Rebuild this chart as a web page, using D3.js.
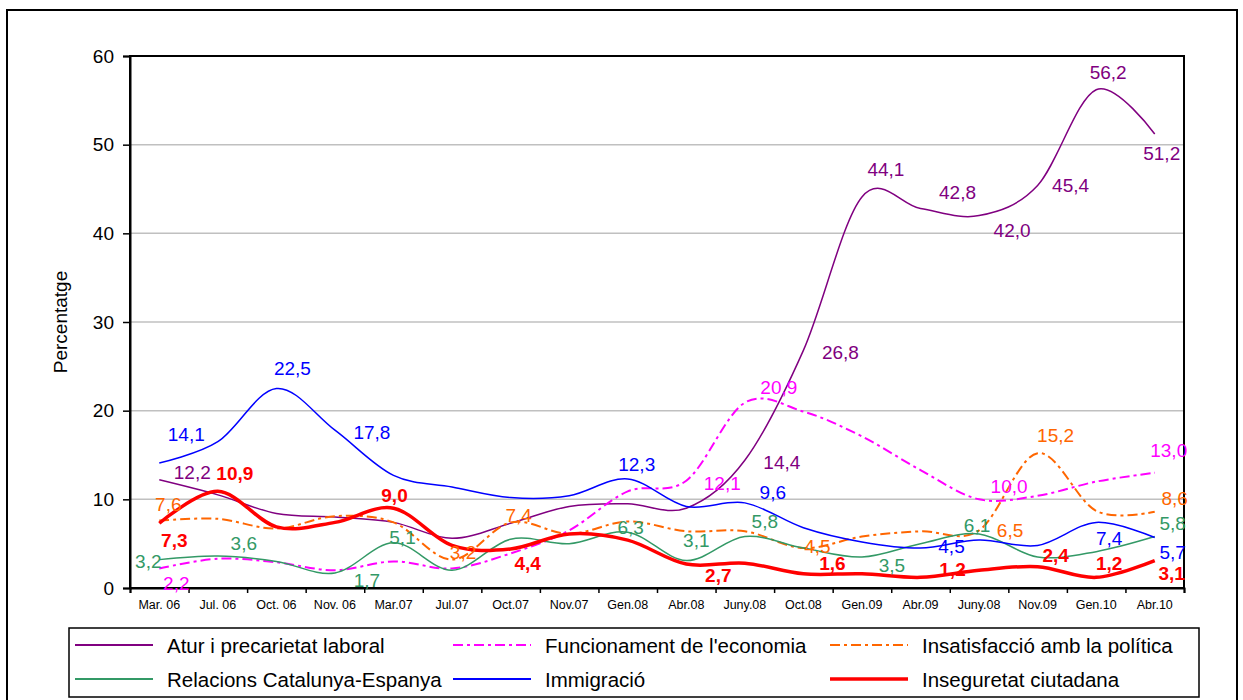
<!DOCTYPE html>
<html>
<head>
<meta charset="utf-8">
<script src="https://cdn.jsdelivr.net/npm/d3@7"></script>
<style>
  body { margin: 0; background: #fff; }
  text { font-family: "Liberation Sans", Arial, sans-serif; }
</style>
</head>
<body>
<svg id="chart" width="1243" height="700"></svg>
<script>
// categories (Juny.08 appears twice in the original, so scales work on the index)
const categories = ["Mar. 06", "Jul. 06", "Oct. 06", "Nov. 06", "Mar.07", "Jul.07", "Oct.07", "Nov.07",
  "Gen.08", "Abr.08", "Juny.08", "Oct.08", "Gen.09", "Abr.09", "Juny.08", "Nov.09", "Gen.10", "Abr.10"];

const atur = [12.2, 10.5, 8.4, 8.0, 7.4, 5.6, 7.3, 9.2, 9.5, 9.0, 14.4, 26.8, 44.1, 42.8, 42.0, 45.4, 56.2, 51.2];
const funcionament = [2.2, 3.3, 2.9, 2.0, 3.0, 2.2, 3.9, 6.5, 10.9, 12.1, 20.9, 19.9, 17.1, 13.3, 10.0, 10.4, 12.0, 13.0];
const insatisfaccio = [7.6, 7.8, 6.7, 8.1, 7.4, 3.2, 7.4, 6.1, 7.5, 6.4, 6.4, 4.5, 5.8, 6.4, 6.5, 15.2, 8.7, 8.6];
const relacions = [3.2, 3.6, 3.0, 1.7, 5.1, 2.0, 5.5, 5.0, 6.3, 3.1, 5.8, 4.5, 3.5, 5.0, 6.1, 3.5, 4.1, 5.8];
const immigracio = [14.1, 16.5, 22.5, 17.8, 12.7, 11.4, 10.2, 10.4, 12.3, 9.2, 9.6, 6.8, 5.2, 4.5, 5.4, 4.8, 7.4, 5.7];
const inseguretat = [7.3, 10.9, 6.9, 7.4, 9.0, 4.8, 4.4, 6.1, 5.4, 2.7, 2.8, 1.6, 1.6, 1.2, 2.0, 2.4, 1.2, 3.1];

const seriesNames = ["Atur i precarietat laboral", "Funcionament de l'economia", "Insatisfacció amb la política",
  "Relacions Catalunya-Espanya", "Immigració", "Inseguretat ciutadana"];

const yTicks = [0, 10, 20, 30, 40, 50, 60];

// which points carry a value label
const aturLabels = [0, 10, 11, 12, 13, 14, 15, 16, 17];
const funcionamentLabels = [0, 9, 10, 14, 17];
const insatisfaccioLabels = [0, 5, 6, 11, 14, 15, 17];
const relacionsLabels = [0, 1, 3, 4, 8, 9, 10, 12, 14, 17];
const immigracioLabels = [0, 2, 3, 8, 10, 13, 16, 17];
const inseguretatLabels = [0, 1, 4, 6, 9, 11, 13, 15, 16, 17];

// label nudges (dx, dy) from the point, same order as the label lists
const labelNudge = {
  atur: [[33, -7], [37, 2], [37, 2], [24, -27], [37, -16], [33, 15], [33, 0], [12, -17], [7, 19]],
  funcionament: [[17, 15], [36, 3], [34, -15], [30, -13], [14, -22]],
  insatisfaccio: [[9, -16], [11, -7], [8, -7], [14, -2], [31, 0], [18, -18], [20, -13]],
  relacions: [[-11, 2], [26, -13], [32, 8], [9, -5], [3, -5], [10, -20], [20, -15], [30, 9], [-2, -8], [18, -13]],
  immigracio: [[27, -28], [16, -20], [37, 2], [9, -14], [28, -10], [31, -2], [13, 16], [18, 15]],
  inseguretat: [[15, 17], [17, -18], [1, -13], [17, 15], [32, 11], [29, -10], [32, -8], [18, -11], [13, -14], [17, 13]]
};

const series = [
  { key: "atur", name: seriesNames[0], values: atur, labels: aturLabels, color: "#800080", width: 1.5, dash: null, bold: false },
  { key: "funcionament", name: seriesNames[1], values: funcionament, labels: funcionamentLabels, color: "#ff00ff", width: 2, dash: "10,4,3,4", bold: false },
  { key: "insatisfaccio", name: seriesNames[2], values: insatisfaccio, labels: insatisfaccioLabels, color: "#ff6600", width: 2, dash: "10,4,3,4", bold: false },
  { key: "relacions", name: seriesNames[3], values: relacions, labels: relacionsLabels, color: "#339966", width: 1.5, dash: null, bold: false },
  { key: "immigracio", name: seriesNames[4], values: immigracio, labels: immigracioLabels, color: "#0000ff", width: 1.5, dash: null, bold: false },
  { key: "inseguretat", name: seriesNames[5], values: inseguretat, labels: inseguretatLabels, color: "#ff0000", width: 3.5, dash: null, bold: true }
];

const svg = d3.select("#chart");

const plotLeft = 130, plotRight = 1184, plotTop = 56, plotBottom = 588;

// outer frame
svg.append("rect")
  .attr("x", 7).attr("y", 10)
  .attr("width", 1230).attr("height", 720)
  .attr("fill", "none").attr("stroke", "#000").attr("stroke-width", 2);

const xScale = d3.scaleBand()
  .domain(d3.range(categories.length))
  .range([plotLeft, plotRight])
  .paddingInner(0).paddingOuter(0);

const xEdges = d3.scaleLinear()
  .domain([0, categories.length])
  .range([plotLeft, plotRight]);

const yScale = d3.scaleLinear()
  .domain([0, 60])
  .range([plotBottom, plotTop]);

const xc = (i) => xScale(i) + xScale.bandwidth() / 2;

// gridlines
svg.append("g")
  .selectAll("line")
  .data(yTicks.filter(d => d > 0 && d < 60))
  .enter()
  .append("line")
  .attr("x1", plotLeft).attr("x2", plotRight)
  .attr("y1", d => yScale(d)).attr("y2", d => yScale(d))
  .attr("stroke", "#c0c0c0").attr("stroke-width", 1.5);

// plot border
svg.append("rect")
  .attr("x", plotLeft).attr("y", plotTop)
  .attr("width", plotRight - plotLeft).attr("height", plotBottom - plotTop)
  .attr("fill", "none").attr("stroke", "#000").attr("stroke-width", 2);

// y axis
const yAxis = d3.axisLeft(yScale).tickValues(yTicks).tickSize(7).tickPadding(9);
const gy = svg.append("g")
  .attr("transform", `translate(${plotLeft}, 0)`)
  .call(yAxis);
gy.select(".domain").attr("stroke-width", 2);
gy.selectAll(".tick line").attr("stroke-width", 1.5);
gy.selectAll("text").attr("font-size", 19).attr("fill", "#000")
  .style("font-family", "'Liberation Sans', Arial, sans-serif");

// x axis: tick marks on category edges, labels centred
const gxTicks = svg.append("g")
  .attr("transform", `translate(0, ${plotBottom})`)
  .call(d3.axisBottom(xEdges).tickValues(d3.range(categories.length + 1)).tickSize(5).tickFormat(""));
gxTicks.select(".domain").attr("stroke-width", 2);
gxTicks.selectAll(".tick line").attr("stroke-width", 1.5);

const gx = svg.append("g")
  .attr("transform", `translate(0, ${plotBottom})`)
  .call(d3.axisBottom(xScale).tickSize(0).tickPadding(12).tickFormat(i => categories[i]));
gx.select(".domain").remove();
gx.selectAll("text").attr("font-size", 12.5).attr("fill", "#000")
  .style("font-family", "'Liberation Sans', Arial, sans-serif");

// y title
svg.append("text")
  .attr("transform", `translate(67, ${(plotTop + plotBottom) / 2}) rotate(-90)`)
  .attr("text-anchor", "middle")
  .attr("font-size", 19)
  .text("Percentatge");

// lines
const line = d3.line()
  .x((d, i) => xc(i))
  .y(d => yScale(d))
  .curve(d3.curveCardinal.tension(0));

series.forEach(s => {
  svg.append("path")
    .datum(s.values)
    .attr("d", line)
    .attr("fill", "none")
    .attr("stroke", s.color)
    .attr("stroke-width", s.width)
    .attr("stroke-dasharray", s.dash)
    .attr("stroke-linejoin", "round");
});

// value labels
const fmt = (v) => d3.format(".1f")(v).replace(".", ",");
series.forEach(s => {
  const nudges = labelNudge[s.key];
  svg.append("g")
    .selectAll("text")
    .data(s.labels)
    .enter()
    .append("text")
    .attr("x", (d, j) => xc(d) + nudges[j][0])
    .attr("y", (d, j) => yScale(s.values[d]) + nudges[j][1])
    .attr("text-anchor", "middle")
    .attr("dominant-baseline", "central")
    .attr("font-size", 19)
    .attr("font-weight", s.bold ? "bold" : "normal")
    .attr("fill", s.color)
    .text(d => fmt(s.values[d]));
});

// legend
svg.append("rect")
  .attr("x", 69).attr("y", 628)
  .attr("width", 1130).attr("height", 69)
  .attr("fill", "#fff").attr("stroke", "#000").attr("stroke-width", 1.5);

const legendCols = [75, 453, 830];
const legendRows = [645, 679];
const legend = svg.append("g")
  .selectAll("g")
  .data(series)
  .enter()
  .append("g")
  .attr("transform", (d, i) => `translate(${legendCols[i % 3]}, ${legendRows[Math.floor(i / 3)]})`);

legend.append("line")
  .attr("x1", 0).attr("x2", 78)
  .attr("y1", 0).attr("y2", 0)
  .attr("stroke", d => d.color)
  .attr("stroke-width", d => d.bold ? 3.5 : 2)
  .attr("stroke-dasharray", d => d.dash);

legend.append("text")
  .attr("x", 92)
  .attr("y", 0)
  .attr("dominant-baseline", "central")
  .attr("font-size", 20.5)
  .text(d => d.name);
</script>
</body>
</html>
